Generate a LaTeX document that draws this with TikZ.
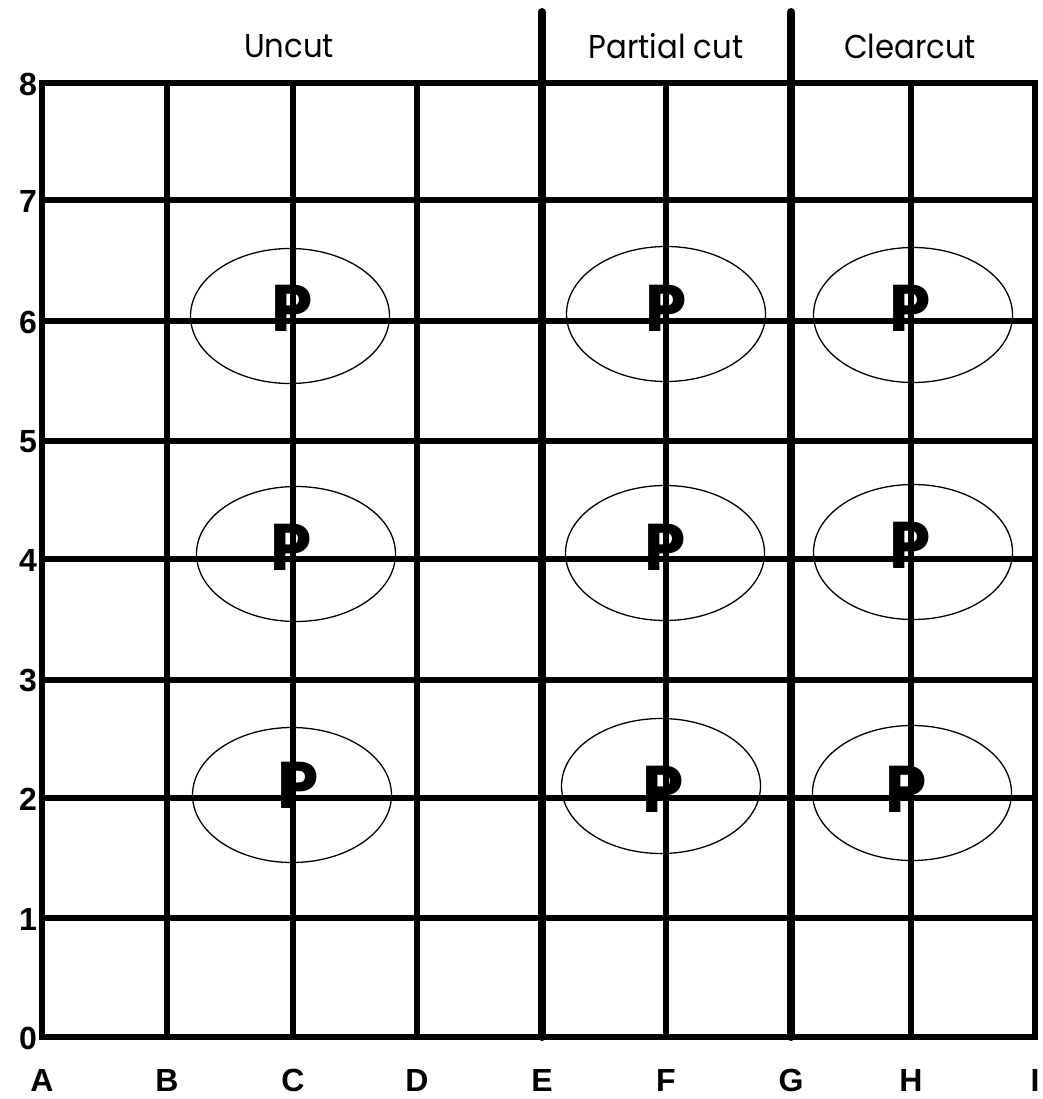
\documentclass[tikz,border=0pt]{standalone}
\usepackage{fontspec}
\newfontfamily\headfont{Poppins}
\newfontfamily\labfont{Liberation Sans}
\begin{document}
\begin{tikzpicture}[x=1pt,y=-1pt,
  gridline/.style={line width=5.5pt},
  divider/.style={line width=8pt,line cap=round},
  plotring/.style={line width=1.3pt},
  head/.style={inner sep=0pt,xscale=0.93,font=\headfont\fontsize{33}{33}\selectfont},
  axlab/.style={inner sep=0pt,font=\labfont\bfseries\fontsize{32}{32}\selectfont},
  plotp/.style={inner sep=0pt,anchor=base,font=\headfont\bfseries\fontsize{66}{66}\selectfont}]
\useasboundingbox (0,0) rectangle (1042,1099);
\fill[white] (0,0) rectangle (1042,1099);
% columns
\foreach \n/\x in {A/42,B/167,C/293,D/417,E/542,F/666,G/791,H/911,I/1035}
  \coordinate (col\n) at (\x,0);
% rows
\foreach \n/\y in {8/83,7/200,6/321,5/441,4/559,3/680,2/798,1/918,0/1037}
  \coordinate (row\n) at (0,\y);
% horizontal grid lines
\foreach \n in {7,6,5,4,3,2,1}
  \draw[gridline] (colA |- row\n) -- (colI |- row\n);
% vertical grid lines
\foreach \n in {B,C,D,F,H}
  \draw[gridline] (col\n |- row8) -- (col\n |- row0);
% outer frame
\draw[gridline,line join=miter] (colA |- row8) rectangle (colI |- row0);
% dividers
\coordinate (topE) at (542,12);
\coordinate (topG) at (791,12);
\draw[divider] (topE) -- (colE |- row0);
\draw[divider] (topG) -- (colG |- row0);
% headings
\node[head] (hUncut) at (289,46) {Uncut};
\node[head] (hPartial) at (666,46) {Partial cut};
\node[head] (hClear) at (910,46) {Clearcut};
% row numbers
\foreach \n in {8,7,6,5,4,3,2,1,0}
  \node[axlab] (num\n) at ([yshift=-1pt]28,0 |- row\n) {\n};
% column letters
\foreach \n in {A,B,C,D,E,F,G,H,I}
  \node[axlab] (let\n) at (col\n |- 0,1080) {\n};
% plots
\foreach \id/\cx/\cy/\px/\py in {C6/290/316/292/331, F6/666/314/666/331, H6/913/315/910/331,
    C4/296/554/291/570, F4/665/553/665/570, H4/913/552/910/568,
    C2/292/795/298/808, F2/661/786/663/812, H2/912/793/906/812}
{
  \draw[plotring] (\cx,\cy) ellipse[x radius=99.5,y radius=67.5];
  \node[plotp] (p\id) at (\px,\py) {P};
}
\end{tikzpicture}
\end{document}
